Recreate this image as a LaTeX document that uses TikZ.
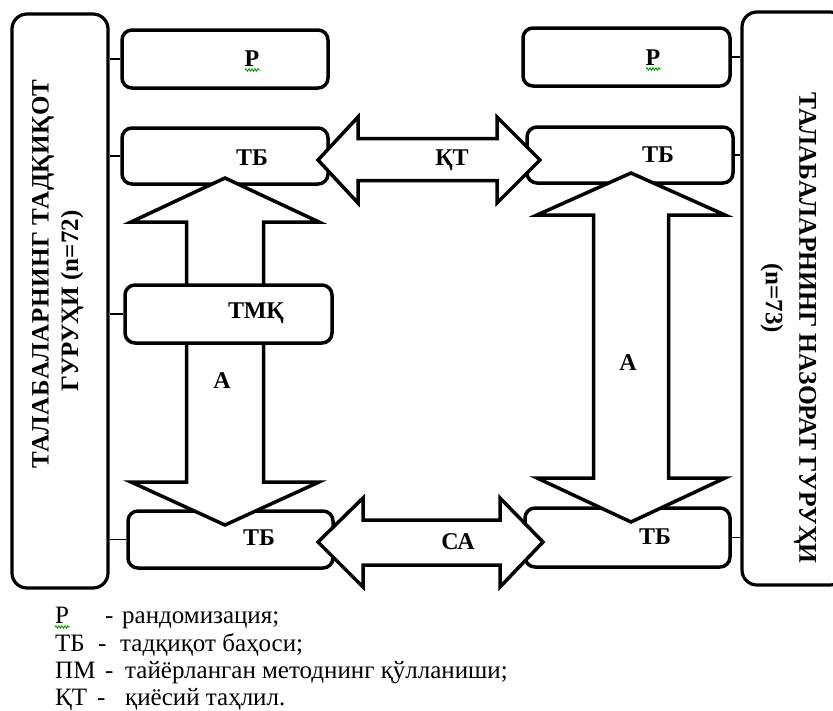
\documentclass[tikz,border=0pt]{standalone}
\usepackage{fontspec}
\setmainfont{Liberation Serif}
\newfontfamily\tnr{Liberation Serif}
\newfontfamily\tnrsp[LetterSpace=2]{Liberation Serif}
\usetikzlibrary{decorations.pathmorphing}
\begin{document}
\begin{tikzpicture}[x=1pt,y=-1pt,
  bigbox/.style={draw, line width=3.2pt, rounded corners=15pt, inner sep=0pt, fill=white},
  smallbox/.style={draw, line width=3.5pt, rounded corners=10pt, fill=white, inner sep=0pt, minimum width=206pt, minimum height=57pt},
  link/.style={line width=1.3pt},
  fatarrow/.style={draw, fill=white, line width=3.5pt, line join=miter},
  lbl/.style={font=\tnr\fontsize{24}{27}\selectfont\bfseries, inner sep=0pt},
  vtext/.style={font=\tnr\fontsize{25}{28}\selectfont\bfseries, inner sep=0pt},
  legend/.style={font=\tnr\fontsize{25}{28}\selectfont, inner sep=0pt, anchor=base west},
  squig/.style={draw=green!60!black, line width=0.9pt, decorate, decoration={snake, amplitude=1.2pt, segment length=3pt}}
]
\fill[white] (0,0) rectangle (833,710);
\useasboundingbox (0,0) rectangle (833,710);
\clip (0,0) rectangle (833,710);

% group boxes
\node[bigbox, minimum width=96pt, minimum height=574pt] (GL) at (60,301) {};
\node[bigbox, minimum width=103pt, minimum height=573pt] (GR) at (793.5,298.5) {};

% small boxes
\node[smallbox, minimum height=58pt] (PL) at (225,59) {};
\node[smallbox, minimum height=56pt] (TL1) at (225,156) {};
\node[smallbox, minimum width=205pt] (TL2) at (230.5,539.5) {};
\node[smallbox, minimum width=207pt, minimum height=58pt] (PR) at (626.5,57) {};
\node[smallbox, minimum height=56pt] (TR1) at (630,155) {};
\node[smallbox, minimum width=205pt, minimum height=59pt] (TR2) at (627.5,537.5) {};

% connectors
\draw[link] (GL.east |- PL.west) -- (PL.west);
\draw[link] (GL.east |- TL1.west) -- (TL1.west);
\draw[link] (GL.east |- TL2.west) -- (TL2.west);
\draw[link] (PR.east) -- (GR.west |- PR.east);
\draw[link] (TR1.east) -- (GR.west |- TR1.east);
\draw[link] (TR2.east) -- (GR.west |- TR2.east);

% fat arrows
\draw[fatarrow] (225,178) -- (319,222) -- (263.5,222) -- (263.5,482) -- (319,482) -- (225,525)
  -- (131,482) -- (186.5,482) -- (186.5,222) -- (131,222) -- cycle;
\draw[fatarrow] (631,173) -- (725,215) -- (668.5,215) -- (668.5,478) -- (725,478) -- (631,522)
  -- (537,478) -- (593.5,478) -- (593.5,215) -- (537,215) -- cycle;
\draw[fatarrow] (318,160) -- (358,117) -- (358,138.5) -- (497,138.5) -- (497,117) -- (540,160)
  -- (497,203) -- (497,180.5) -- (358,180.5) -- (358,203) -- cycle;
\draw[fatarrow] (318,542) -- (363,498) -- (363,520) -- (500,520) -- (500,498) -- (543,542)
  -- (500,587) -- (500,565) -- (363,565) -- (363,587) -- cycle;

% middle box over the arrow
\node[smallbox, minimum width=207pt, minimum height=58pt] (TMK) at (228.5,314) {};
\draw[link] (GL.east |- TMK.west) -- (TMK.west);

% labels
\node[lbl] (lPL) at (252,59) {Р};
\node[lbl] (lPR) at (653,58) {Р};
\node[lbl] (lTL1) at (252,158) {ТБ};
\node[lbl] (lTR1) at (658,155) {ТБ};
\node[lbl] (lTMK) at (256,313) {ТМҚ};
\node[lbl] (lTL2) at (259,538) {ТБ};
\node[lbl] (lTR2) at (655,537) {ТБ};
\node[lbl] (lA1) at (222,381) {А};
\node[lbl] (lA2) at (628,363) {А};
\node[lbl] (lKT) at (452,160) {ҚТ};
\node[lbl] (lCA) at (458,542) {СА};
\draw[squig] (245,70) -- (260,70);
\draw[squig] (646,69) -- (661,69);

% group titles
\node[vtext, font=\tnrsp\fontsize{25}{28}\selectfont\bfseries, rotate=90] (tL1) at (43,274) {ТАЛАБАЛАРНИНГ ТАДҚИҚОТ};
\node[vtext, rotate=90] (tL2) at (72,301) {ГУРУҲИ (n=72)};
\node[vtext, font=\tnr\fontsize{25.5}{28}\selectfont\bfseries, rotate=-90] (tR1) at (805,328) {ТАЛАБАЛАРНИНГ НАЗОРАТ ГУРУҲИ};
\node[vtext, rotate=-90] (tR2) at (772,298) {(n=73)};

% legend
\node[legend] (k1) at (55,623) {Р};
\node[legend] (d1) at (105,623) {-};
\node[legend] (e1) at (122,623) {рандомизация;};
\draw[squig] (55,627) -- (70,627);
\node[legend] (k2) at (55,651) {ТБ};
\node[legend] (d2) at (98,651) {-};
\node[legend] (e2) at (120,651) {тадқиқот баҳоси;};
\node[legend] (k3) at (55,678) {ПМ};
\node[legend] (d3) at (105,678) {-};
\node[legend] (e3) at (125,678) {тайёрланган методнинг қўлланиши;};
\node[legend] (k4) at (55,705) {ҚТ};
\node[legend] (d4) at (97,705) {-};
\node[legend] (e4) at (125,705) {қиёсий таҳлил.};
\end{tikzpicture}
\end{document}
